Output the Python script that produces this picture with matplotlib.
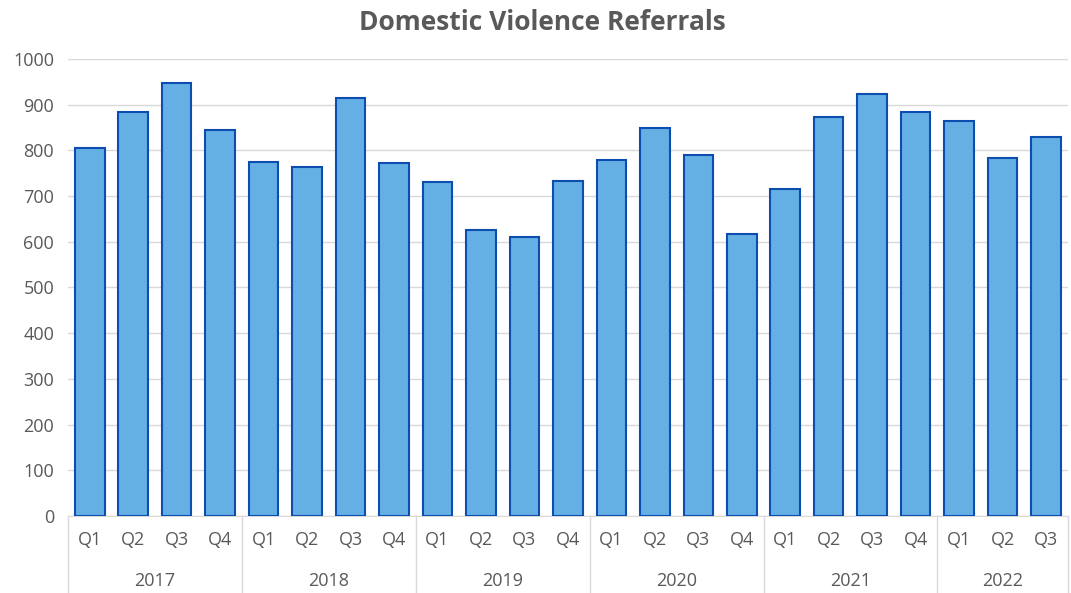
import matplotlib.pyplot as plt
import numpy as np

# datos
years = ['2017', '2018', '2019', '2020', '2021', '2022']
quarters_per_year = [4, 4, 4, 4, 4, 3]
quarters = ['Q1', 'Q2', 'Q3', 'Q4'] * 5 + ['Q1', 'Q2', 'Q3']
referrals = [806, 883, 948, 845,
             774, 764, 915, 772,
             731, 626, 610, 734,
             779, 848, 789, 618,
             716, 874, 924, 884,
             865, 783, 829]

plt.rcParams['font.family'] = ['Open Sans', 'DejaVu Sans']
gris = '#595959'

fig = plt.figure(figsize=(10.71, 5.93), dpi=100)
ax = fig.add_axes([0.0635, 0.13, 0.9335, 0.7705])

x = np.arange(len(referrals))
ax.bar(x, referrals, width=0.68, color='#64B0E4', edgecolor='#0D4DB0',
       linewidth=1.5, zorder=3)

ax.set_xlim(-0.5, len(referrals) - 0.5)
ax.set_ylim(0, 1000)
ax.set_yticks(range(0, 1001, 100))
ax.tick_params(axis='y', length=0, labelsize=13, labelcolor=gris, pad=10)
ax.grid(axis='y', color='#D9D9D9', linewidth=1, zorder=0)
for s in ['top', 'right', 'left']:
    ax.spines[s].set_visible(False)
ax.spines['bottom'].set_color('#D9D9D9')

# etiquetas de trimestre
ax.set_xticks(x)
ax.set_xticklabels(quarters)
ax.tick_params(axis='x', length=0, labelsize=13, labelcolor=gris, pad=11)

# etiquetas de año y separadores
tr = ax.get_xaxis_transform()
inicio = -0.5
ax.plot([inicio, inicio], [0, -0.17], transform=tr, color='#D9D9D9',
        linewidth=1, clip_on=False)
for year, n in zip(years, quarters_per_year):
    fin = inicio + n
    ax.plot([fin, fin], [0, -0.17], transform=tr, color='#D9D9D9',
            linewidth=1, clip_on=False)
    ax.text((inicio + fin) / 2, -0.142, year, transform=tr, ha='center',
            va='center', fontsize=13, color=gris)
    inicio = fin

fig.text(0.506, 0.962, 'Domestic Violence Referrals', ha='center',
         va='center', fontsize=19, fontweight='bold', color=gris)

fig.savefig('out.png', dpi=100)
